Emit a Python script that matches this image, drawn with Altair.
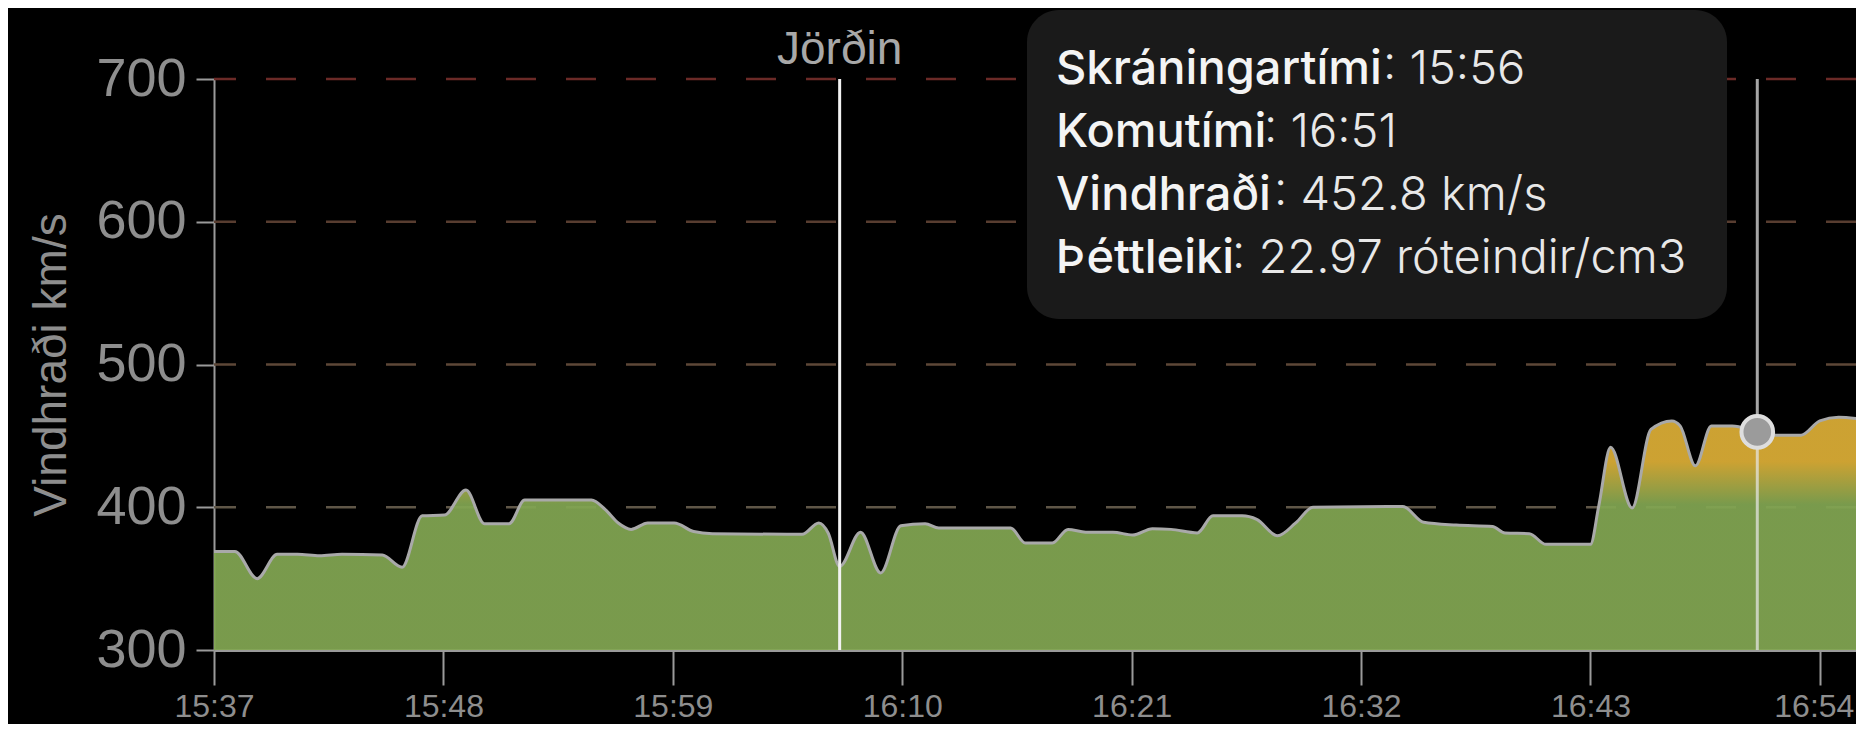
import altair as alt
import pandas as pd

# ---------------- data ----------------
times = [
    "15:37:00", "15:38:00", "15:39:04", "15:40:02", "15:41:00", "15:42:04", "15:43:08",
    "15:45:04", "15:46:01", "15:46:59", "15:48:03", "15:49:05", "15:49:58", "15:51:09",
    "15:51:54", "15:55:06", "15:55:45", "15:56:23", "15:57:00", "15:57:48", "15:59:04",
    "16:00:00", "16:00:54", "16:05:12", "16:06:00", "16:06:27", "16:07:00", "16:08:00",
    "16:08:58", "16:09:56", "16:11:06", "16:11:45", "16:15:12", "16:15:54", "16:17:12",
    "16:17:57", "16:18:48", "16:20:06", "16:21:03", "16:22:00", "16:22:53", "16:24:09",
    "16:24:54", "16:26:18", "16:27:00", "16:28:00", "16:28:52", "16:29:42", "16:34:00",
    "16:35:00", "16:36:34", "16:38:18", "16:38:54", "16:40:04", "16:40:52", "16:43:00",
    "16:43:24", "16:43:58", "16:45:00", "16:45:54", "16:46:54", "16:47:18", "16:48:02",
    "16:48:48", "16:49:48", "16:51:00", "16:51:54", "16:53:06", "16:54:00", "16:54:54",
    "16:56:06",
]
speeds = [
    369, 369, 350, 367, 367, 366, 367,
    366.5, 358, 394, 394.5, 412, 388.5, 388.5,
    405, 405, 398.5, 389, 384.5, 389, 389,
    383, 381.5, 381, 389, 382, 358.5, 382.5,
    354, 387, 388.5, 385.5, 385.5, 375, 375,
    384.5, 382.5, 382.5, 380.5, 385, 384.5, 382,
    394, 394, 391.5, 380, 389, 400, 400.5,
    389.5, 387.5, 386.5, 382, 381.5, 374, 374,
    401, 442, 399.5, 454.5, 460.5, 457, 429,
    457, 457, 452.8, 450.5, 450.5, 460.5, 463,
    461.5,
]

tick_labels = ["15:37", "15:48", "15:59", "16:10", "16:21", "16:32", "16:43", "16:54"]
y_ticks = [300, 400, 500, 600, 700]
grid_values = [400, 500, 600, 700]

start_time = "15:37:00"
end_time = "16:55:44"

earth_label = "Jörðin"
earth_time = "16:07:00"

hover_time = "16:51:00"
hover_speed = 452.8

tooltip_labels = ["Skráningartími", "Komutími", "Vindhraði", "Þéttleiki"]
tooltip_values = ["15:56", "16:51", "452.8 km/s", "22.97 róteindir/cm3"]

# ---------------- styles ----------------
grid_colors = ["#5f5647", "#5d4737", "#583d30", "#6b2a27"]
GREEN = "#82a652"
GOLD = "#dcae36"
AXIS_GRAY = "#9a9a9a"
TEXT_GRAY = "#8e8e8e"
W, H = 1642, 571


def to_min(s):
    parts = [int(p) for p in s.split(":")]
    while len(parts) < 3:
        parts.append(0)
    return parts[0] * 60 + parts[1] + parts[2] / 60.0


df = pd.DataFrame({"t": [to_min(s) for s in times], "v": speeds})
tick_vals = [to_min(s) for s in tick_labels]
last_tick = max(tick_vals)

xs = alt.Scale(domain=[to_min(start_time), to_min(end_time)], nice=False, zero=False)
ys = alt.Scale(domain=[min(y_ticks), max(y_ticks)], nice=False, zero=False)

x_axis = alt.Axis(
    values=tick_vals,
    labelExpr="floor(datum.value/60) + ':' + (datum.value % 60 < 10 ? '0' : '') + (datum.value % 60)",
    title=None,
    labelFont="Liberation Sans",
    labelFontSize=32,
    labelColor=TEXT_GRAY,
    labelPadding=6,
    labelFlush=False,
    labelOffset={"condition": {"test": f"datum.value >= {last_tick}", "value": -6}, "value": 0},
    tickSize=35,
    tickWidth=2,
    tickColor=AXIS_GRAY,
    domainColor=AXIS_GRAY,
    domainWidth=3,
    grid=False,
)
y_axis = alt.Axis(
    values=y_ticks,
    title="Vindhraði km/s",
    titleFont="Liberation Sans",
    titleFontSize=46,
    titleFontWeight="normal",
    titleColor=TEXT_GRAY,
    titlePadding=20,
    labelFont="Liberation Sans",
    labelFontSize=54,
    labelColor=TEXT_GRAY,
    labelPadding=10,
    tickSize=18,
    tickWidth=2,
    tickColor=AXIS_GRAY,
    domainColor=AXIS_GRAY,
    domainWidth=2,
    grid=False,
)


def X(field="t"):
    return alt.X(f"{field}:Q", scale=xs, axis=x_axis)


def Y(field="v"):
    return alt.Y(f"{field}:Q", scale=ys, axis=y_axis)


# grid lines
grid_df = pd.DataFrame({"v": grid_values, "c": grid_colors})
grid = alt.Chart(grid_df).mark_rule(strokeDash=[30, 30], strokeWidth=2.5).encode(
    y=Y(), color=alt.Color("c:N", scale=None)
)

# area with gradient
vmax = max(speeds)
span = vmax - min(y_ticks)
gold_stop = (vmax - 432) / span
green_stop = (vmax - 402) / span
area = alt.Chart(df).mark_area(
    interpolate="monotone",
    clip=True,
    opacity=0.93,
    color=alt.Gradient(
        gradient="linear",
        stops=[
            alt.GradientStop(color=GOLD, offset=0),
            alt.GradientStop(color=GOLD, offset=gold_stop),
            alt.GradientStop(color=GREEN, offset=green_stop),
            alt.GradientStop(color=GREEN, offset=1),
        ],
        x1=0, x2=0, y1=0, y2=1,
    ),
).encode(x=X(), y=Y(), y2=alt.datum(min(y_ticks)))

line = alt.Chart(df).mark_line(
    interpolate="monotone", clip=True, color="#a9a9a9", strokeWidth=3
).encode(x=X(), y=Y())

# Earth marker
earth_df = pd.DataFrame({"t": [to_min(earth_time)], "v": [max(y_ticks)], "v2": [min(y_ticks)], "label": [earth_label]})
earth_rule = alt.Chart(earth_df).mark_rule(color="#f2f2f2", strokeWidth=3).encode(
    x=X(), y=Y(), y2="v2:Q"
)
earth_text = alt.Chart(earth_df).mark_text(
    font="Liberation Sans", fontSize=46, color="#a8a8a8", baseline="alphabetic", align="center"
).encode(x=X(), y=alt.value(-15), text="label:N")

# hover marker
hover_df = pd.DataFrame({"t": [to_min(hover_time)], "v": [hover_speed], "top": [max(y_ticks)], "bot": [min(y_ticks)]})
hover_rule = alt.Chart(hover_df).mark_rule(color="#e6e6e6", strokeWidth=3, opacity=0.72).encode(
    x=X(), y=alt.Y("top:Q", scale=ys, axis=y_axis), y2="bot:Q"
)
hover_pt = alt.Chart(hover_df).mark_point(
    shape="circle", filled=True, fill="#9b9b9b", stroke="#dedede", strokeWidth=4, size=1000, opacity=1
).encode(x=X(), y=Y())

# tooltip box
box_df = pd.DataFrame({"k": [0]})
box = alt.Chart(box_df).mark_rect(color="#1a1a1a", cornerRadius=32).encode(
    x=alt.value(813), x2=alt.value(1513), y=alt.value(-69), y2=alt.value(240)
)

label_widths = [327, 208, 218, 176]
tip_layers = []
for i, (lab, val) in enumerate(zip(tooltip_labels, tooltip_values)):
    row_df = pd.DataFrame({"lab": [lab], "val": [": " + val]})
    yb = 5 + i * 63
    tip_layers.append(
        alt.Chart(row_df).mark_text(
            font="Inter", fontSize=47, fontWeight=500, color="#f4f4f4", align="left", baseline="alphabetic"
        ).encode(x=alt.value(842), y=alt.value(yb), text="lab:N")
    )
    tip_layers.append(
        alt.Chart(row_df).mark_text(
            font="Inter", fontSize=47, fontWeight=300, color="#e8e8e8", align="left", baseline="alphabetic"
        ).encode(x=alt.value(842 + label_widths[i]), y=alt.value(yb), text="val:N")
    )

chart = alt.layer(
    grid, area, line, earth_rule, earth_text, hover_rule, hover_pt, box, *tip_layers
).properties(
    width=W,
    height=H,
    autosize=alt.AutoSizeParams(type="none"),
    padding={"left": 206, "top": 71, "right": 0, "bottom": 74},
    background="#000000",
).configure_view(stroke=None)

chart.save("out.html", embed_options={"renderer": "svg", "actions": False})
